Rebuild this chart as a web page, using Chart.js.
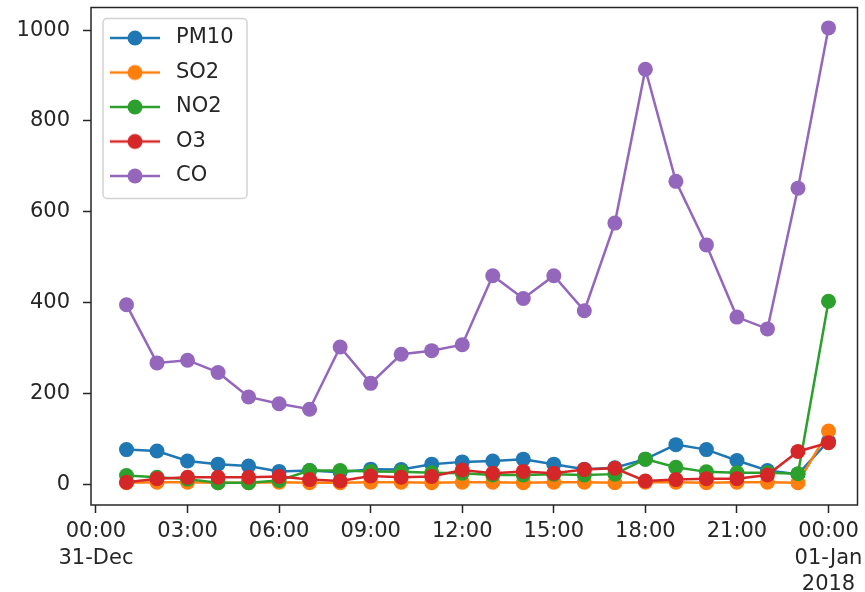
<!DOCTYPE html>
<html>
<head>
<meta charset="utf-8">
<script src="https://cdn.jsdelivr.net/npm/chart.js@4"></script>
<style>
  body { margin: 0; background: #fff; }
</style>
</head>
<body>
<canvas id="pollution" width="865" height="592"></canvas>
<script>
// hours after 00:00 on 31-Dec (24 = 00:00 on 01-Jan)
var hours = [1, 2, 3, 4, 5, 6, 7, 8, 9, 10, 11, 12, 13, 14, 15, 16, 17, 18, 19, 20, 21, 22, 23, 24];

var pm10 = [76, 73, 51, 44, 40, 28, 30, 26, 33, 32, 44, 49, 51, 55, 44, 33, 36, 55, 87, 76, 52, 30, 22, 95];
var so2  = [3, 4, 4, 3, 3, 4, 3, 3, 4, 4, 3, 4, 4, 3, 4, 4, 3, 4, 4, 3, 4, 4, 3, 117];
var no2  = [19, 15, 11, 3, 3, 8, 30, 30, 28, 27, 25, 24, 20, 20, 22, 20, 22, 55, 37, 27, 25, 25, 23, 403];
var o3   = [4, 12, 15, 15, 15, 17, 10, 7, 18, 15, 17, 31, 24, 28, 24, 32, 35, 7, 10, 12, 12, 20, 72, 91];
var co   = [395, 267, 273, 246, 192, 177, 165, 302, 222, 286, 294, 307, 459, 409, 459, 382, 575, 914, 667, 527, 368, 342, 652, 1005];

var seriesNames = ["PM10", "SO2", "NO2", "O3", "CO"];
var seriesColors = ["#1f77b4", "#ff7f0e", "#2ca02c", "#d62728", "#9467bd"];

var xTicks = [0, 3, 6, 9, 12, 15, 18, 21, 24];
var xTickLabels = [["00:00", "31-Dec"], "03:00", "06:00", "09:00", "12:00", "15:00", "18:00", "21:00", ["00:00", "01-Jan", "2018"]];
var yTicks = [0, 200, 400, 600, 800, 1000];

var ink = "#262626";
var fontFamily = "'DejaVu Sans', sans-serif";

function points(values) {
  return values.map(function (v, i) { return { x: hours[i], y: v }; });
}

// little line + dot picture for each legend entry
function handle(color) {
  var c = document.createElement("canvas");
  c.width = 52;
  c.height = 18;
  var g = c.getContext("2d");
  g.strokeStyle = color;
  g.lineWidth = 2.5;
  g.beginPath();
  g.moveTo(1, 9);
  g.lineTo(51, 9);
  g.stroke();
  g.fillStyle = color;
  g.beginPath();
  g.arc(26, 9, 7.5, 0, Math.PI * 2);
  g.fill();
  return c;
}

var allSeries = [pm10, so2, no2, o3, co];
var datasets = allSeries.map(function (vals, i) {
  return {
    label: seriesNames[i],
    data: points(vals),
    borderColor: seriesColors[i],
    backgroundColor: seriesColors[i],
    borderWidth: 2.5,
    pointRadius: 7.5,
    pointBorderWidth: 0,
    pointHoverRadius: 7.5,
    tension: 0,
    order: allSeries.length - i
  };
});

var frame = {
  id: "frame",
  beforeDraw: function (chart) {
    var ctx = chart.ctx, a = chart.chartArea;
    // legend frame
    ctx.save();
    ctx.fillStyle = "rgba(255,255,255,0.8)";
    ctx.strokeStyle = "#d2d2d2";
    ctx.lineWidth = 1.5;
    ctx.beginPath();
    ctx.roundRect(a.left + 12, a.top + 11, 144, 180, 4);
    ctx.fill();
    ctx.stroke();
    ctx.restore();
  },
  afterDatasetsDraw: function (chart) {
    var ctx = chart.ctx, a = chart.chartArea;
    ctx.save();
    ctx.strokeStyle = ink;
    ctx.lineWidth = 1.5;
    ctx.strokeRect(a.left, a.top, a.right - a.left, a.bottom - a.top);
    ctx.restore();
  }
};

var ctx = document.getElementById("pollution").getContext("2d");
var chart = new Chart(ctx, {
  type: "line",
  data: { datasets: datasets },
  plugins: [frame],
  options: {
    responsive: false,
    animation: false,
    devicePixelRatio: 1,
    layout: { padding: { top: 5, right: 5, left: 0, bottom: 0 } },
    plugins: {
      tooltip: { enabled: false },
      legend: {
        position: "chartArea",
        align: "start",
        title: { display: true, text: " ", font: { size: 14, lineHeight: 1 }, padding: 0 },
        labels: {
          usePointStyle: true,
          pointStyleWidth: 61,
          padding: 13.5,
          color: ink,
          font: { family: fontFamily, size: 21 },
          generateLabels: function (chart) {
            return chart.data.datasets.map(function (ds, i) {
              return {
                text: ds.label,
                pointStyle: handle(seriesColors[i]),
                fontColor: ink,
                fillStyle: seriesColors[i],
                strokeStyle: seriesColors[i],
                lineWidth: 0,
                hidden: false,
                datasetIndex: i
              };
            });
          }
        }
      }
    },
    scales: {
      x: {
        type: "linear",
        min: -0.163,
        max: 24.95,
        afterBuildTicks: function (scale) {
          scale.ticks = xTicks.map(function (v) { return { value: v }; });
        },
        afterFit: function (scale) {
          scale.height = 87;
          scale.paddingLeft = 0;
          scale.paddingRight = 0;
        },
        border: { display: false },
        grid: {
          drawOnChartArea: false,
          drawTicks: true,
          tickLength: 8,
          tickColor: ink,
          tickWidth: 1.5
        },
        ticks: {
          autoSkip: false,
          maxRotation: 0,
          padding: 6,
          color: ink,
          font: { family: fontFamily, size: 21, lineHeight: 1.24 },
          callback: function (value) {
            var k = xTicks.indexOf(value);
            return k < 0 ? "" : xTickLabels[k];
          }
        }
      },
      y: {
        type: "linear",
        min: -46,
        max: 1050,
        afterBuildTicks: function (scale) {
          scale.ticks = yTicks.map(function (v) { return { value: v }; });
        },
        afterFit: function (scale) {
          scale.width = 91;
          scale.paddingTop = 0;
          scale.paddingBottom = 0;
        },
        border: { display: false },
        grid: {
          drawOnChartArea: false,
          drawTicks: true,
          tickLength: 8,
          tickColor: ink,
          tickWidth: 1.5
        },
        ticks: {
          padding: 13,
          color: ink,
          font: { family: fontFamily, size: 21 },
          callback: function (value) { return String(value); }
        }
      }
    }
  }
});
</script>
</body>
</html>
